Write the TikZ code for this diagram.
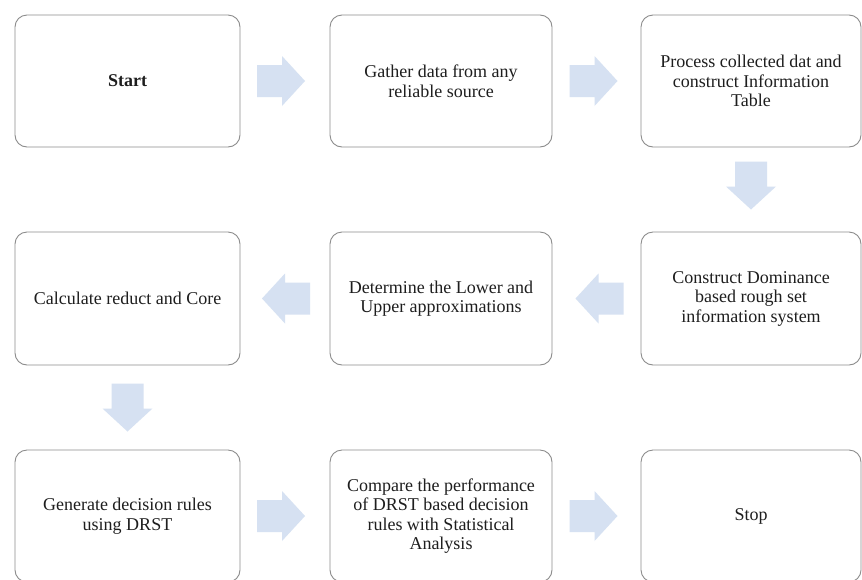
\documentclass[tikz,border=0pt]{standalone}
\usepackage{fontspec}
\setmainfont{Liberation Serif}
\usetikzlibrary{calc}
\definecolor{arrowblue}{HTML}{D6E1F2}
\definecolor{boxline}{HTML}{8C8C8C}
\definecolor{txt}{HTML}{1E1E1E}
\begin{document}
\begin{tikzpicture}[x=1pt,y=-1pt,
  stepbox/.style={draw=boxline,line width=0.9pt,rounded corners=12pt,fill=white,
    minimum width=224pt,minimum height=132pt,inner sep=0pt,align=center,
    text=txt,font=\fontsize{18}{19.5}\selectfont},
  blockarr/.pic={\fill[arrowblue] (-24,-16) -- (1,-16) -- (1,-25) -- (24,0) -- (1,25) -- (1,16) -- (-24,16) -- cycle;},
]
\useasboundingbox (0,0) rectangle (862,579);
\fill[white] (0,0) rectangle (862,579);
\begin{scope}
\clip (0,0) rectangle (862,579);
\node[stepbox,minimum width=225pt] (s1) at (127.5,81) {\textbf{Start}};
\node[stepbox,minimum width=222pt] (s2) at (441,81) {Gather data from any\\reliable source};
\node[stepbox,minimum width=220pt] (s3) at (751,81) {Process collected dat and\\construct Information\\Table};
\node[stepbox,minimum width=220pt,minimum height=133pt] (s4) at (751,298.5) {Construct Dominance\\based rough set\\information system};
\node[stepbox,minimum width=222pt,minimum height=133pt] (s5) at (441,298.5) {Determine the Lower  and\\Upper approximations};
\node[stepbox,minimum width=225pt,minimum height=133pt] (s6) at (127.5,298.5) {Calculate reduct and Core};
\node[stepbox,minimum width=225pt] (s7) at (127.5,516) {Generate decision rules\\using DRST};
\node[stepbox,minimum width=222pt] (s8) at (441,516) {Compare the performance\\of DRST  based decision\\rules with Statistical\\Analysis};
\node[stepbox,minimum width=220pt] (s9) at (751,516) {Stop};
\end{scope}
\coordinate (a1) at ($(s1.east)!0.5!(s2.west)+(-4,0)$);
\coordinate (a2) at ($(s2.east)!0.5!(s3.west)+(-3,0)$);
\coordinate (a3) at ($(s3.south)!0.5!(s4.north)+(0,-4)$);
\coordinate (a4) at ($(s4.west)!0.5!(s5.east)+(3,0)$);
\coordinate (a5) at ($(s5.west)!0.5!(s6.east)+(1,0)$);
\coordinate (a6) at ($(s6.south)!0.5!(s7.north)$);
\coordinate (a7) at ($(s7.east)!0.5!(s8.west)+(-4,0)$);
\coordinate (a8) at ($(s8.east)!0.5!(s9.west)+(-3,0)$);
\pic at (a1) {blockarr};
\pic at (a2) {blockarr};
\pic[rotate=-90] at (a3) {blockarr};
\pic[rotate=180] at (a4) {blockarr};
\pic[rotate=180] at (a5) {blockarr};
\pic[rotate=-90] at (a6) {blockarr};
\pic at (a7) {blockarr};
\pic at (a8) {blockarr};
\end{tikzpicture}
\end{document}
